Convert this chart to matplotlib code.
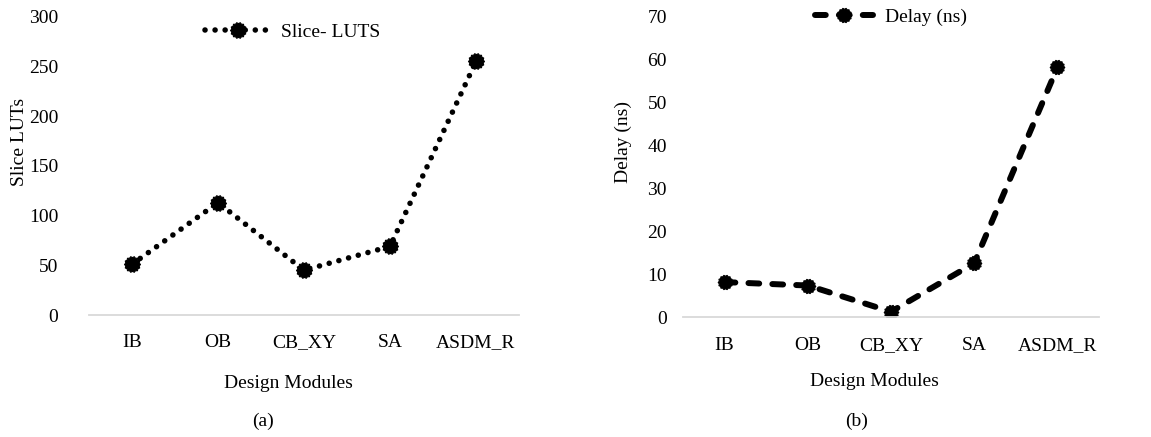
import matplotlib
matplotlib.use("Agg")
import matplotlib.pyplot as plt
import numpy as np
from matplotlib.path import Path

categories = ["IB", "OB", "CB_XY", "SA", "ASDM_R"]
slice_luts = [51, 113, 45, 69, 255]
delay_ns = [8.2, 7.4, 1.3, 12.6, 58.2]
yticks_a = [0, 50, 100, 150, 200, 250, 300]
yticks_b = [0, 10, 20, 30, 40, 50, 60, 70]

plt.rcParams['font.family'] = ['Liberation Serif', 'DejaVu Serif']
W, H = 1151, 437
fig = plt.figure(figsize=(W / 100, H / 100), dpi=100)
fs = 14

# gear-like marker (circle with small bumps), as drawn by the source software
_n = 14
_ang = np.linspace(0, 2 * np.pi, 2 * _n, endpoint=False)
_r = np.where(np.arange(2 * _n) % 2 == 0, 1.0, 0.86)
_verts = np.column_stack([_r * np.cos(_ang), _r * np.sin(_ang)])
_verts = np.vstack([_verts, _verts[:1]])
gear = Path(_verts, closed=True)


def ax_px(x0, x1, ytop, ybot):
    return fig.add_axes([x0 / W, (H - ybot) / H, (x1 - x0) / W, (ybot - ytop) / H])


def style(ax, ylim, yticks, ypad):
    ax.set_xlim(-0.5, len(categories) - 0.5)
    ax.set_ylim(*ylim)
    ax.set_yticks(yticks)
    ax.set_xticks(range(len(categories)))
    ax.set_xticklabels(categories)
    for s in ["top", "right", "left"]:
        ax.spines[s].set_visible(False)
    ax.spines["bottom"].set_color("#d9d9d9")
    ax.spines["bottom"].set_linewidth(1.3)
    ax.tick_params(axis="both", length=0, labelsize=fs, colors="black")
    ax.tick_params(axis="y", pad=ypad)
    ax.tick_params(axis="x", pad=14)
    ax.set_facecolor("none")


def ptext(x, y, s, **kw):
    fig.text(x / W, 1 - y / H, s, ha="center", va="center", fontsize=fs, **kw)


# (a)
ax1 = ax_px(89, 519, 16.7, 315)
ax1.plot(range(len(categories)), slice_luts, color="black", linewidth=4.0,
         linestyle=(0, (0.01, 1.8)), dash_capstyle="round",
         marker=gear, markersize=11.5, markerfacecolor="black",
         markeredgecolor="black", markeredgewidth=0.8, label="Slice- LUTS")
style(ax1, (0, 300), yticks_a, 22)
ptext(20, 142, "Slice LUTs", rotation=90)
ptext(288, 383, "Design Modules")
ptext(263, 421, "(a)")
ax1.legend(loc="center", bbox_to_anchor=(293 / W, 1 - 32 / H),
           bbox_transform=fig.transFigure, frameon=False, fontsize=fs,
           handlelength=3.3, handletextpad=0.6)

# (b)
ax2 = ax_px(683, 1099, 16.7, 317.3)
ax2.plot(range(len(categories)), delay_ns, color="black", linewidth=4.3,
         linestyle=(0, (1.8, 2.2)), dash_capstyle="round",
         marker=gear, markersize=10.5, markerfacecolor="black",
         markeredgecolor="black", markeredgewidth=0.8, label="Delay (ns)")
style(ax2, (0, 70), yticks_b, 11.5)
ptext(623, 142, "Delay (ns)", rotation=90)
ptext(874, 381, "Design Modules")
ptext(857, 421, "(b)")
ax2.legend(loc="center", bbox_to_anchor=(891 / W, 1 - 17 / H),
           bbox_transform=fig.transFigure, frameon=False, fontsize=fs,
           handlelength=3.0, handletextpad=0.6)

fig.savefig("out.png", dpi=100, facecolor="white")
